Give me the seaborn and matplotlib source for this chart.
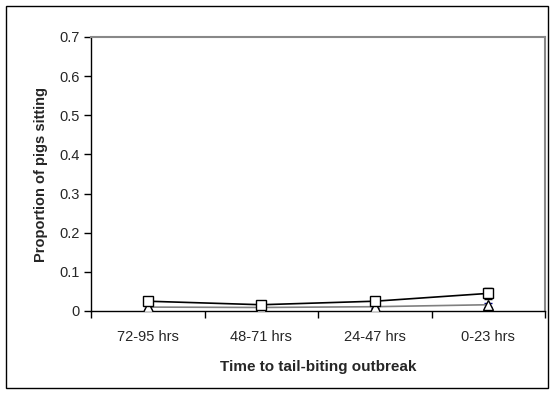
import matplotlib
matplotlib.use("Agg")
import matplotlib.pyplot as plt
import seaborn as sns
import pandas as pd
import numpy as np
from matplotlib.patches import Rectangle

categories = ["72-95 hrs", "48-71 hrs", "24-47 hrs", "0-23 hrs"]
square_vals = [0.025, 0.016, 0.025, 0.045]
square_err = [0.004, 0.003, 0.004, 0.014]
triangle_vals = [0.010, 0.009, 0.011, 0.016]
triangle_err = [0.004, 0.003, 0.004, 0.005]
y_ticks = [0, 0.1, 0.2, 0.3, 0.4, 0.5, 0.6, 0.7]

sns.set_theme(style="white")
plt.rcParams['font.family'] = ['Liberation Sans', 'DejaVu Sans']

fig = plt.figure(figsize=(5.54, 3.99), dpi=100)
ax = fig.add_axes([91/554, (399-311)/399, (545-91)/554, (311-37)/399])

pos = list(range(len(categories)))
df = pd.DataFrame({"pos": pos * 2,
                   "val": triangle_vals + square_vals,
                   "series": ["tri"] * 4 + ["sq"] * 4})

# triangle series
ax.errorbar(pos, triangle_vals, yerr=triangle_err, fmt='none', ecolor='#000080',
            elinewidth=1, capsize=3, zorder=2)
sns.lineplot(data=df[df.series == "tri"], x="pos", y="val", ax=ax, color="#808080",
             linewidth=1.2, marker="^", markersize=7, markerfacecolor="white",
             markeredgecolor="black", markeredgewidth=1, zorder=3, legend=False)
# square series
ax.errorbar(pos, square_vals, yerr=square_err, fmt='none', ecolor='black',
            elinewidth=1, capsize=3, zorder=4)
sns.lineplot(data=df[df.series == "sq"], x="pos", y="val", ax=ax, color="black",
             linewidth=1.2, marker="s", markersize=6.5, markerfacecolor="white",
             markeredgecolor="black", markeredgewidth=1, zorder=5, legend=False)

ax.set_xlim(-0.5, len(categories) - 0.5)
ax.set_ylim(0, 0.7)
ax.set_yticks(y_ticks)
ax.set_yticklabels([f"{t:g}" for t in y_ticks], fontsize=10.5)
ax.set_xticks(np.arange(-0.5, len(categories), 1.0))
ax.set_xticklabels([])
ax.set_xticks(pos, minor=True)
ax.set_xticklabels(categories, minor=True, fontsize=10.5)
ax.tick_params(axis='x', which='minor', length=0, pad=14)
ax.tick_params(axis='x', which='major', direction='out', length=5, width=1, color='black', bottom=True)
ax.tick_params(axis='y', direction='out', length=5, width=1, color='black', left=True, pad=3)

for s in ["left", "bottom"]:
    ax.spines[s].set_color("black")
    ax.spines[s].set_linewidth(1)
for s in ["top", "right"]:
    ax.spines[s].set_color("#888888")
    ax.spines[s].set_linewidth(1.5)

ax.set_xlabel("Time to tail-biting outbreak", fontsize=11, fontweight='bold', labelpad=11)
ax.set_ylabel("Proportion of pigs sitting", fontsize=10.5, fontweight='bold', labelpad=8)

fig.patches.append(Rectangle((6/554, (399-388)/399), (548-6)/554, (388-6)/399,
                             transform=fig.transFigure, fill=False,
                             edgecolor='black', linewidth=1))

fig.savefig("out.png", dpi=100)
